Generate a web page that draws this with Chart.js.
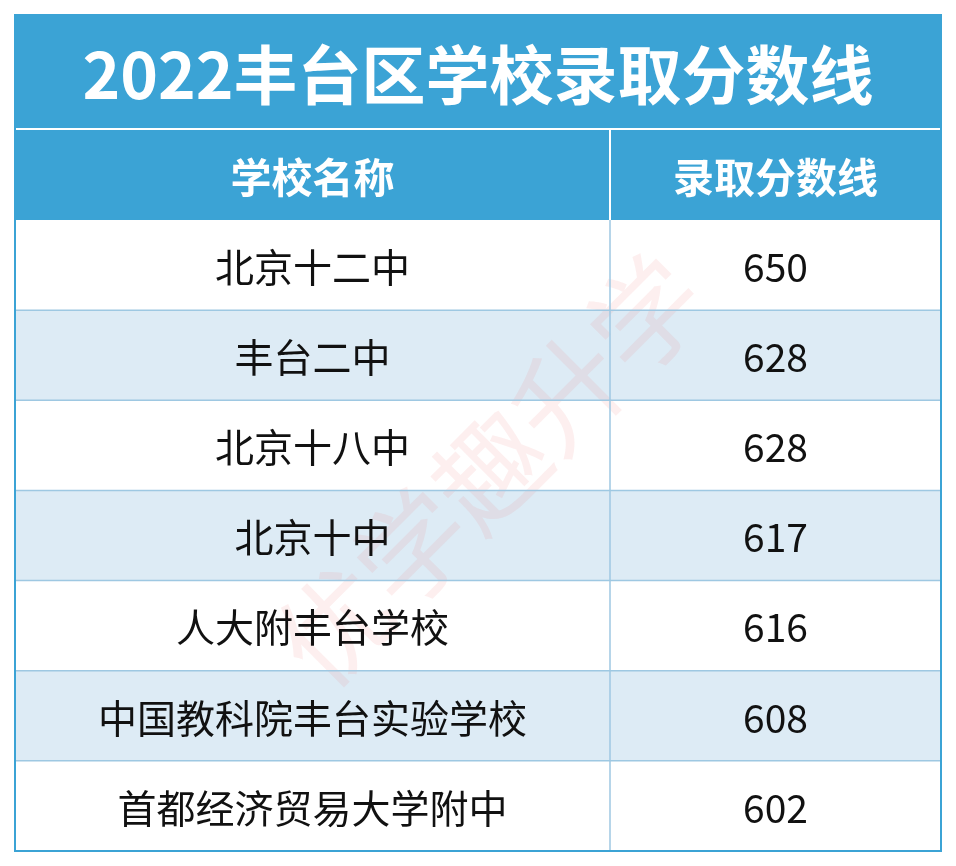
<!DOCTYPE html>
<html>
<head>
<meta charset="utf-8">
<script src="https://cdn.jsdelivr.net/npm/chart.js@4"></script>
<style>
  html, body { margin: 0; padding: 0; background: #fff; }
  #wrap { width: 956px; height: 866px; }
</style>
</head>
<body>
<div id="wrap"><canvas id="myTable"></canvas></div>
<script>
const title = '2022丰台区学校录取分数线';
const headers = ['学校名称', '录取分数线'];
const schools = ['北京十二中', '丰台二中', '北京十八中', '北京十中', '人大附丰台学校', '中国教科院丰台实验学校', '首都经济贸易大学附中'];
const scores = [650, 628, 628, 617, 616, 608, 602];

const blue = '#3BA3D5';
const lightBlue = '#DDEBF5';
const font = '"Noto Sans CJK SC", "Noto Sans", sans-serif';

const tablePlugin = {
  id: 'tablePlugin',
  beforeDatasetsDraw(chart) {
    const ctx = chart.ctx;
    const area = chart.chartArea;
    const y = chart.scales.y;
    const left = area.left, right = area.right;
    const splitX = 610;
    const rowH = (area.bottom - area.top) / schools.length;
    const titleTop = 15, headTop = 130;

    ctx.save();
    // title + header
    ctx.fillStyle = blue;
    ctx.fillRect(left, titleTop, right - left, area.top - titleTop);
    ctx.strokeStyle = '#fff';
    ctx.lineWidth = 2;
    ctx.beginPath();
    ctx.moveTo(left, headTop - 1); ctx.lineTo(right, headTop - 1);
    ctx.moveTo(splitX, headTop); ctx.lineTo(splitX, area.top);
    ctx.stroke();

    ctx.fillStyle = '#fff';
    ctx.textAlign = 'center';
    ctx.textBaseline = 'middle';
    ctx.font = 'bold 64px ' + font;
    ctx.fillText(title, (left + right) / 2, (titleTop + headTop) / 2 + 2);
    ctx.font = 'bold 41px ' + font;
    ctx.fillText(headers[0], (left + splitX) / 2, (headTop + area.top) / 2 + 2);
    ctx.fillText(headers[1], (splitX + right) / 2, (headTop + area.top) / 2 + 2);

    // body rows
    schools.forEach((name, i) => {
      const cy = y.getPixelForValue(i);
      const top = cy - rowH / 2;
      ctx.fillStyle = i % 2 ? lightBlue : '#fff';
      ctx.fillRect(left, top, right - left, rowH);
    });

    // watermark
    ctx.save();
    ctx.translate(490, 470);
    ctx.rotate(-Math.PI / 4);
    ctx.fillStyle = 'rgba(240,120,120,0.12)';
    ctx.font = '110px ' + font;
    ctx.fillText('优学趣升学', 0, 0);
    ctx.restore();

    ctx.fillStyle = '#111';
    ctx.font = '39px ' + font;
    schools.forEach((name, i) => {
      const cy = y.getPixelForValue(i);
      ctx.fillText(name, (left + splitX) / 2, cy + 2);
      ctx.fillText(String(scores[i]), (splitX + right) / 2, cy + 2);
    });

    // grid lines
    ctx.strokeStyle = '#9EC8E2';
    ctx.lineWidth = 1.5;
    ctx.beginPath();
    schools.forEach((name, i) => {
      const b = y.getPixelForValue(i) + rowH / 2;
      ctx.moveTo(left, b); ctx.lineTo(right, b);
    });
    ctx.moveTo(splitX, area.top); ctx.lineTo(splitX, area.bottom);
    ctx.moveTo(left, area.top); ctx.lineTo(left, area.bottom);
    ctx.moveTo(right, area.top); ctx.lineTo(right, area.bottom);
    ctx.stroke();
    ctx.strokeStyle = blue;
    ctx.lineWidth = 2;
    ctx.strokeRect(left, titleTop, right - left, area.bottom - titleTop);
    ctx.restore();
  }
};

new Chart(document.getElementById('myTable'), {
  type: 'bar',
  data: {
    labels: schools,
    datasets: [{ data: scores, backgroundColor: 'rgba(0,0,0,0)', borderWidth: 0 }]
  },
  options: {
    indexAxis: 'y',
    responsive: true,
    maintainAspectRatio: false,
    animation: false,
    layout: { padding: { top: 220, left: 15, right: 15, bottom: 15 } },
    plugins: { legend: { display: false }, tooltip: { enabled: false } },
    scales: {
      y: { display: false, offset: true },
      x: { display: false, min: 0, max: 700 }
    }
  },
  plugins: [tablePlugin]
});
</script>
</body>
</html>
